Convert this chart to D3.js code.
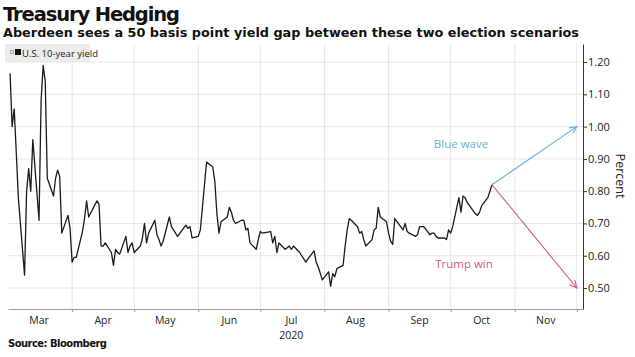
<!DOCTYPE html>
<html><head><meta charset="utf-8">
<script src="https://cdn.jsdelivr.net/npm/d3@7"></script>
<style>body{margin:0;background:#fff}svg{display:block}</style>
</head><body>
<script>
const dates = ["2020-03-02","2020-03-03","2020-03-04","2020-03-05","2020-03-06","2020-03-09","2020-03-10","2020-03-11","2020-03-12","2020-03-13","2020-03-16","2020-03-17","2020-03-18","2020-03-19","2020-03-20","2020-03-23","2020-03-24","2020-03-25","2020-03-26","2020-03-27","2020-03-30","2020-03-31","2020-04-01","2020-04-02","2020-04-03","2020-04-06","2020-04-07","2020-04-08","2020-04-09","2020-04-13","2020-04-14","2020-04-15","2020-04-16","2020-04-17","2020-04-20","2020-04-21","2020-04-22","2020-04-23","2020-04-24","2020-04-27","2020-04-28","2020-04-29","2020-04-30","2020-05-01","2020-05-04","2020-05-05","2020-05-06","2020-05-07","2020-05-08","2020-05-11","2020-05-12","2020-05-13","2020-05-14","2020-05-15","2020-05-18","2020-05-19","2020-05-20","2020-05-21","2020-05-22","2020-05-26","2020-05-27","2020-05-28","2020-05-29","2020-06-01","2020-06-02","2020-06-03","2020-06-04","2020-06-05","2020-06-08","2020-06-09","2020-06-10","2020-06-11","2020-06-12","2020-06-15","2020-06-16","2020-06-17","2020-06-18","2020-06-19","2020-06-22","2020-06-23","2020-06-24","2020-06-25","2020-06-26","2020-06-29","2020-06-30","2020-07-01","2020-07-02","2020-07-06","2020-07-07","2020-07-08","2020-07-09","2020-07-10","2020-07-13","2020-07-14","2020-07-15","2020-07-16","2020-07-17","2020-07-20","2020-07-21","2020-07-22","2020-07-23","2020-07-24","2020-07-27","2020-07-28","2020-07-29","2020-07-30","2020-07-31","2020-08-03","2020-08-04","2020-08-05","2020-08-06","2020-08-07","2020-08-10","2020-08-11","2020-08-12","2020-08-13","2020-08-14","2020-08-17","2020-08-18","2020-08-19","2020-08-20","2020-08-21","2020-08-24","2020-08-25","2020-08-26","2020-08-27","2020-08-28","2020-08-31","2020-09-01","2020-09-02","2020-09-03","2020-09-04","2020-09-08","2020-09-09","2020-09-10","2020-09-11","2020-09-14","2020-09-15","2020-09-16","2020-09-17","2020-09-18","2020-09-21","2020-09-22","2020-09-23","2020-09-24","2020-09-25","2020-09-28","2020-09-29","2020-09-30","2020-10-01","2020-10-02","2020-10-05","2020-10-06","2020-10-07","2020-10-08","2020-10-09","2020-10-13","2020-10-14","2020-10-15","2020-10-16","2020-10-19","2020-10-20","2020-10-21"];
const yields = [1.165,1.00,1.055,0.92,0.78,0.54,0.80,0.87,0.80,0.96,0.71,1.08,1.19,1.14,0.84,0.785,0.84,0.865,0.845,0.67,0.725,0.685,0.58,0.595,0.595,0.675,0.715,0.77,0.72,0.77,0.76,0.63,0.63,0.64,0.61,0.57,0.62,0.61,0.605,0.66,0.61,0.63,0.64,0.61,0.63,0.655,0.70,0.64,0.67,0.71,0.665,0.65,0.63,0.645,0.72,0.69,0.68,0.67,0.66,0.695,0.685,0.69,0.655,0.66,0.68,0.75,0.82,0.89,0.875,0.83,0.73,0.67,0.705,0.72,0.75,0.735,0.71,0.70,0.71,0.71,0.68,0.685,0.64,0.62,0.65,0.675,0.67,0.675,0.64,0.66,0.61,0.64,0.62,0.625,0.63,0.62,0.63,0.61,0.60,0.59,0.58,0.59,0.615,0.58,0.565,0.545,0.525,0.55,0.505,0.545,0.535,0.56,0.57,0.63,0.68,0.715,0.71,0.69,0.67,0.675,0.65,0.63,0.65,0.68,0.685,0.75,0.72,0.705,0.67,0.645,0.635,0.715,0.68,0.70,0.675,0.67,0.66,0.665,0.69,0.69,0.69,0.665,0.67,0.67,0.66,0.655,0.655,0.65,0.68,0.67,0.69,0.78,0.735,0.785,0.78,0.765,0.73,0.725,0.735,0.755,0.78,0.80,0.82];
const scenarioNames = ["Blue wave","Trump win"];
const scenarioTargets = [1.00, 0.50];
const scenarioEndDate = "2020-12-01";
const monthLabels = ["Mar","Apr","May","Jun","Jul","Aug","Sep","Oct","Nov"];
const yTicks = [0.50,0.60,0.70,0.80,0.90,1.00,1.10,1.20];
const yearLabel = "2020";

const W = 635, H = 357;
const parse = d3.timeParse("%Y-%m-%d");
const data = dates.map((d,i)=>({date:parse(d), v:yields[i]}));

const svg = d3.select("body").append("svg").attr("width",W).attr("height",H)
  .style("font-family","'DejaVu Sans', Verdana, sans-serif");

const x = d3.scaleTime().domain([new Date(2020,2,1), new Date(2020,11,4)]).range([8,583]);
const y = d3.scaleLinear().domain([0.435,1.256]).range([309,44]);

// gridlines
const monthStarts = d3.timeMonth.range(new Date(2020,3,1), new Date(2020,11,2));
svg.append("g").selectAll("line").data(monthStarts).join("line")
  .attr("x1",d=>x(d)).attr("x2",d=>x(d)).attr("y1",44).attr("y2",309)
  .attr("stroke","#e6e6e6").attr("stroke-width",1);
svg.append("g").selectAll("line").data(yTicks).join("line")
  .attr("x1",8).attr("x2",583).attr("y1",d=>y(d)).attr("y2",d=>y(d))
  .attr("stroke","#e6e6e6").attr("stroke-width",1);

// legend
svg.append("rect").attr("x",5).attr("y",44).attr("width",85).attr("height",18).attr("fill","#ececec");
svg.append("rect").attr("x",10.5).attr("y",50.5).attr("width",3).attr("height",3).attr("fill","none").attr("stroke","#999").attr("stroke-width",0.8);
svg.append("rect").attr("x",15).attr("y",49).attr("width",6).attr("height",6).attr("fill","#111");
svg.append("text").attr("x",22).attr("y",56.5).attr("font-size",9.5).attr("fill","#222")
  .style("font-family","'Open Sans', 'DejaVu Sans', sans-serif").text("U.S. 10-year yield");

// line
svg.append("path").datum(data)
  .attr("d", d3.line().x(d=>x(d.date)).y(d=>y(d.v)))
  .attr("fill","none").attr("stroke","#1a1a1a").attr("stroke-width",1.3).attr("stroke-linejoin","round");

// scenario arrows
const last = data[data.length-1];
const colors = ["#5fb3d3","#d4577c"];
const endD = parse(scenarioEndDate);
scenarioTargets.forEach((t,i)=>{
  const x1=x(last.date), y1=y(last.v), x2=x(endD), y2=y(t);
  svg.append("line").attr("x1",x1).attr("y1",y1).attr("x2",x2).attr("y2",y2)
    .attr("stroke",colors[i]).attr("stroke-width",1.1);
  const ang = Math.atan2(y2-y1,x2-x1), L=8, a=0.45;
  const p = [[x2-L*Math.cos(ang-a), y2-L*Math.sin(ang-a)],[x2,y2],[x2-L*Math.cos(ang+a), y2-L*Math.sin(ang+a)]];
  svg.append("path").attr("d",d3.line()(p)).attr("fill","none").attr("stroke",colors[i]).attr("stroke-width",1.1);
});
svg.append("text").attr("x",461).attr("y",148).attr("text-anchor","middle").attr("font-size",11.5)
  .attr("fill",colors[0]).style("font-family","'Open Sans', sans-serif").text(scenarioNames[0]);
svg.append("text").attr("x",464).attr("y",268).attr("text-anchor","middle").attr("font-size",11.5)
  .attr("fill",colors[1]).style("font-family","'Open Sans', sans-serif").text(scenarioNames[1]);

// y axis (right)
const ya = svg.append("g").attr("transform","translate(583,0)")
  .call(d3.axisRight(y).tickValues(yTicks).tickFormat(d3.format(".2f")).tickSize(4).tickSizeOuter(0));
ya.select(".domain").attr("stroke","#333");
ya.selectAll(".tick line").attr("stroke","#333");
ya.selectAll("text").attr("font-size",11).attr("fill","#222").attr("x",5)
  .style("font-family","'Open Sans', sans-serif");
svg.append("text").attr("transform","translate(616,176) rotate(90)").attr("text-anchor","middle")
  .attr("font-size",12.5).attr("fill","#222").style("font-family","'Open Sans', sans-serif").text("Percent");

// x axis
const xa = svg.append("g").attr("transform","translate(0,309)")
  .call(d3.axisBottom(x).tickValues(monthStarts).tickFormat("").tickSize(3).tickSizeOuter(0));
xa.select(".domain").attr("stroke","#999");
xa.selectAll(".tick line").attr("stroke","#999");
const labelDates = d3.timeMonth.range(new Date(2020,2,1), new Date(2020,11,1));
svg.append("g").selectAll("text").data(labelDates).join("text")
  .attr("x",d=>x(d3.timeDay.offset(d,15))).attr("y",324).attr("text-anchor","middle")
  .attr("font-size",10.5).attr("fill","#222").style("font-family","'Open Sans', sans-serif")
  .text((d,i)=>monthLabels[i]);
svg.append("text").attr("x",x(new Date(2020,6,16))).attr("y",338.5).attr("text-anchor","middle")
  .attr("font-size",10.5).attr("fill","#222").style("font-family","'Open Sans', sans-serif").text(yearLabel);

// titles
svg.append("text").attr("x",3).attr("y",21).attr("font-size",19.5).attr("font-weight","bold")
  .attr("fill","#111").attr("textLength",177).text("Treasury Hedging");
svg.append("text").attr("x",3).attr("y",37).attr("font-size",13).attr("font-weight","bold")
  .attr("fill","#111").attr("textLength",576).attr("lengthAdjust","spacingAndGlyphs")
  .text("Aberdeen sees a 50 basis point yield gap between these two election scenarios");
svg.append("text").attr("x",8).attr("y",346.5).attr("font-size",10).attr("font-weight","bold")
  .attr("fill","#111").attr("textLength",99).text("Source: Bloomberg");
</script>
</body></html>
